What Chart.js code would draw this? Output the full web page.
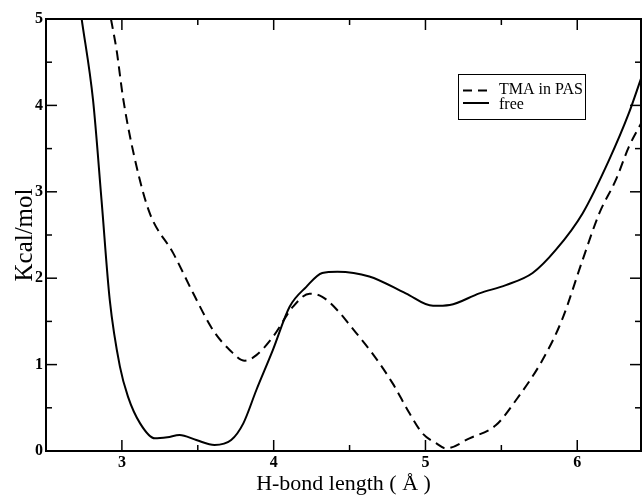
<!DOCTYPE html>
<html>
<head>
<meta charset="utf-8">
<script src="https://cdn.jsdelivr.net/npm/chart.js@4"></script>
<style>
html,body{margin:0;padding:0;background:#fff;}
#wrap{width:642px;height:497px;position:relative;}
</style>
</head>
<body>
<div id="wrap"><canvas id="c" width="642" height="497"></canvas></div>
<script>
// Data
const freeX = [2.735, 2.81, 2.866, 2.92, 2.987, 3.04, 3.12, 3.217, 3.30, 3.38, 3.49, 3.61, 3.72, 3.80, 3.886, 3.995, 4.105, 4.215, 4.32, 4.42, 4.63, 4.87, 5.05, 5.16, 5.355, 5.53, 5.706, 5.86, 6.035, 6.21, 6.34, 6.42];
const freeY = [5.0, 4.06, 2.90, 1.75, 0.976, 0.63, 0.32, 0.147, 0.16, 0.185, 0.127, 0.07, 0.127, 0.32, 0.706, 1.17, 1.67, 1.90, 2.06, 2.075, 2.02, 1.825, 1.68, 1.69, 1.825, 1.92, 2.06, 2.33, 2.75, 3.37, 3.91, 4.31];
const tmaX = [2.928, 2.965, 3.01, 3.097, 3.184, 3.338, 3.47, 3.60, 3.71, 3.81, 3.886, 3.995, 4.127, 4.237, 4.32, 4.43, 4.50, 4.65, 4.785, 4.895, 4.98, 5.07, 5.136, 5.29, 5.465, 5.597, 5.77, 5.90, 6.035, 6.145, 6.255, 6.34, 6.42];
const tmaY = [5.0, 4.64, 4.06, 3.29, 2.75, 2.29, 1.825, 1.40, 1.17, 1.045, 1.11, 1.32, 1.67, 1.82, 1.785, 1.61, 1.46, 1.13, 0.78, 0.436, 0.205, 0.09, 0.03, 0.147, 0.30, 0.59, 1.05, 1.52, 2.21, 2.75, 3.14, 3.52, 3.79];
const xTicks = [3, 4, 5, 6];
const xMinorTicks = [3.5, 4.5, 5.5];
const yTicks = [0, 1, 2, 3, 4, 5];
const yMinorTicks = [0.5, 1.5, 2.5, 3.5, 4.5];
const seriesLabels = ['TMA in PAS', 'free'];

const toPts = (xs, ys) => xs.map((x, i) => ({x: x, y: ys[i]}));

const frameTicks = {
  id: 'frameTicks',
  afterDatasetsDraw(chart) {
    const ctx = chart.ctx, a = chart.chartArea;
    const xs = chart.scales.x, ys = chart.scales.y;
    ctx.save();
    ctx.strokeStyle = '#000';
    ctx.lineWidth = 2;
    ctx.strokeRect(a.left, a.top, a.right - a.left, a.bottom - a.top);
    ctx.lineWidth = 1.5;
    const tick = (x1, y1, x2, y2) => { ctx.beginPath(); ctx.moveTo(x1, y1); ctx.lineTo(x2, y2); ctx.stroke(); };
    xTicks.forEach(v => { const p = xs.getPixelForValue(v); tick(p, a.bottom, p, a.bottom - 11); tick(p, a.top, p, a.top + 11); });
    xMinorTicks.forEach(v => { const p = xs.getPixelForValue(v); tick(p, a.bottom, p, a.bottom - 6); tick(p, a.top, p, a.top + 6); });
    yTicks.slice(1, -1).forEach(v => { const p = ys.getPixelForValue(v); tick(a.left, p, a.left + 11, p); tick(a.right, p, a.right - 11, p); });
    yMinorTicks.forEach(v => { const p = ys.getPixelForValue(v); tick(a.left, p, a.left + 6, p); tick(a.right, p, a.right - 6, p); });
    // legend
    const bx = 458, by = 74, bw = 127, bh = 45;
    ctx.fillStyle = '#fff';
    ctx.fillRect(bx, by, bw, bh);
    ctx.lineWidth = 1;
    ctx.strokeRect(bx + 0.5, by + 0.5, bw, bh);
    ctx.lineWidth = 2;
    ctx.setLineDash([9, 6]);
    tick(463, 90.5, 489, 90.5);
    ctx.setLineDash([]);
    tick(463, 103, 489, 103);
    ctx.fillStyle = '#000';
    ctx.font = '16px "Liberation Serif"';
    ctx.textBaseline = 'middle';
    ctx.fillText(seriesLabels[0], 499, 90);
    ctx.fillText(seriesLabels[1], 499, 105);
    ctx.restore();
  }
};

new Chart(document.getElementById('c'), {
  type: 'line',
  data: {
    datasets: [
      { label: seriesLabels[0], data: toPts(tmaX, tmaY), borderColor: '#000', borderWidth: 2, borderDash: [10, 6], pointRadius: 0, fill: false, cubicInterpolationMode: 'monotone' },
      { label: seriesLabels[1], data: toPts(freeX, freeY), borderColor: '#000', borderWidth: 2, pointRadius: 0, fill: false, cubicInterpolationMode: 'monotone' }
    ]
  },
  options: {
    responsive: false,
    animation: false,
    layout: { padding: { top: 19, right: 1, left: 0, bottom: 0 } },
    plugins: { legend: { display: false }, tooltip: { enabled: false } },
    scales: {
      x: {
        type: 'linear', min: 2.5, max: 6.42,
        afterBuildTicks: s => { s.ticks = xTicks.map(v => ({ value: v })); },
        afterFit: s => { s.height = 46; },
        grid: { display: false, drawTicks: false },
        border: { display: false },
        ticks: { color: '#000', padding: 2, font: { family: 'Liberation Serif', size: 16, weight: 'bold' }, maxRotation: 0 },
        title: { display: true, text: 'H-bond length ( Å )', color: '#000', padding: { top: -3, bottom: 0 }, font: { family: 'Liberation Serif', size: 22 } }
      },
      y: {
        min: 0, max: 5,
        afterBuildTicks: s => { s.ticks = yTicks.map(v => ({ value: v })); },
        afterFit: s => { s.width = 46; },
        grid: { display: false, drawTicks: false },
        border: { display: false },
        ticks: { color: '#000', padding: 3, font: { family: 'Liberation Serif', size: 16, weight: 'bold' } },
        title: { display: true, text: 'Kcal/mol', color: '#000', padding: { top: 10, bottom: 0 }, font: { family: 'Liberation Serif', size: 25 } }
      }
    }
  },
  plugins: [frameTicks]
});
</script>
</body>
</html>
